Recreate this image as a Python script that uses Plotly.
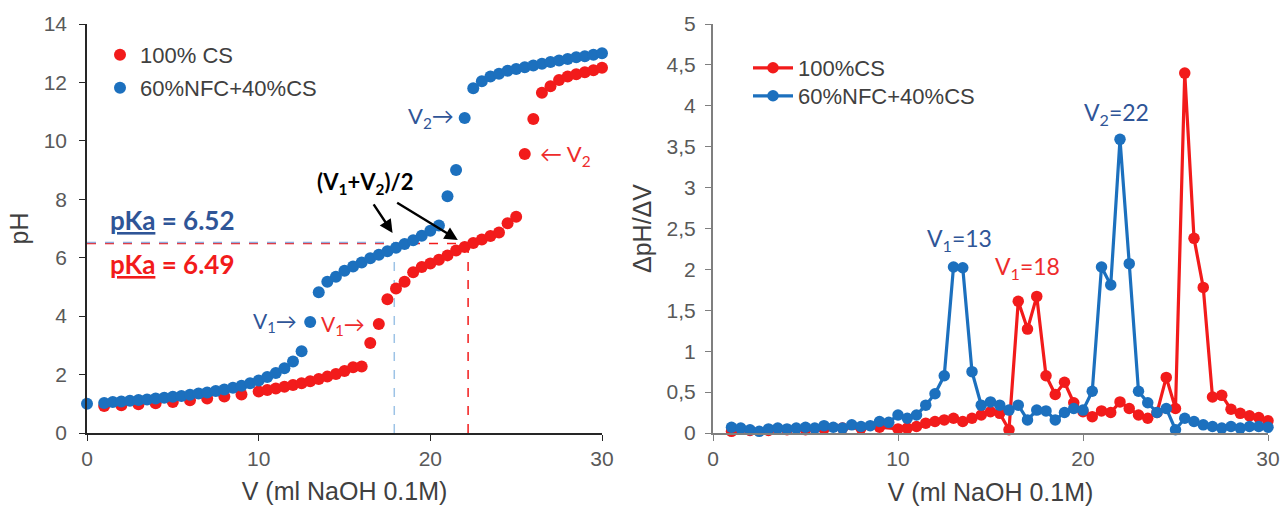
import plotly.graph_objects as go

# ---------------- titration data ----------------
# 100% CS : volume (ml NaOH 0.1M) and pH
v_cs = [1, 2, 3, 4, 5, 6, 7, 8, 9,
        10, 10.5, 11, 11.5, 12, 12.5, 13, 13.5, 14, 14.5, 15, 15.5, 16, 16.5, 17, 17.5,
        18, 18.5, 19, 19.5, 20, 20.5, 21, 21.5, 22, 22.5, 23, 23.5, 24, 24.5, 25, 25.5,
        26, 26.5, 27, 27.5, 28, 28.5, 29, 29.5, 30]
ph_cs = [0.92, 0.95, 0.98, 1.02, 1.06, 1.12, 1.18, 1.25, 1.32,
         1.42, 1.47, 1.52, 1.58, 1.64, 1.70, 1.77, 1.85, 1.93, 2.02, 2.12, 2.25, 2.28, 3.08, 3.73, 4.58,
         4.95, 5.18, 5.50, 5.68, 5.80, 5.93, 6.08, 6.25, 6.37, 6.50, 6.62, 6.74, 6.86, 7.18, 7.40, 9.55,
         10.75, 11.65, 11.87, 12.08, 12.20, 12.28, 12.35, 12.42, 12.50]

# 60%NFC+40%CS : volume and pH
v_nfc = [0, 1, 1.5, 2, 2.5, 3, 3.5, 4, 4.5, 5, 5.5, 6, 6.5, 7, 7.5, 8, 8.5, 9, 9.5, 10,
         10.5, 11, 11.5, 12, 12.5, 13, 13.5, 14, 14.5, 15, 15.5, 16, 16.5, 17, 17.5, 18,
         18.5, 19, 19.5, 20, 20.5, 21, 21.5, 22, 22.5, 23, 23.5, 24, 24.5, 25, 25.5, 26,
         26.5, 27, 27.5, 28, 28.5, 29, 29.5, 30]
ph_nfc = [1.00, 1.03, 1.06, 1.08, 1.10, 1.13, 1.15, 1.18, 1.21, 1.24, 1.27, 1.31, 1.35, 1.39, 1.44,
          1.49, 1.55, 1.62, 1.70, 1.80, 1.92, 2.05, 2.22, 2.45, 2.80, 3.80, 4.82, 5.18, 5.35, 5.55,
          5.70, 5.84, 5.98, 6.10, 6.22, 6.34, 6.47, 6.60, 6.75, 6.92, 7.10, 8.10, 9.00, 10.78, 11.80,
          12.04, 12.20, 12.30, 12.40, 12.46, 12.52, 12.58, 12.64, 12.70, 12.75, 12.80, 12.86, 12.90,
          12.95, 13.00]

# first derivative dpH/dV
dv_cs = [1, 2, 3, 4, 5, 6, 7, 8, 9,
         10, 10.5, 11, 11.5, 12, 12.5, 13, 13.5, 14, 14.5, 15, 15.5, 16, 16.5, 17, 17.5,
         18, 18.5, 19, 19.5, 20, 20.5, 21, 21.5, 22, 22.5, 23, 23.5, 24, 24.5, 25, 25.5,
         26, 26.5, 27, 27.5, 28, 28.5, 29, 29.5, 30]
d_cs = [0.02, 0.03, 0.03, 0.04, 0.04, 0.05, 0.06, 0.06, 0.07,
        0.05, 0.06, 0.08, 0.12, 0.14, 0.16, 0.18, 0.14, 0.18, 0.22, 0.26, 0.24, 0.04, 1.61, 1.27, 1.67,
        0.70, 0.47, 0.62, 0.37, 0.26, 0.20, 0.27, 0.25, 0.38, 0.30, 0.22, 0.18, 0.25, 0.68, 0.30, 4.40,
        2.38, 1.78, 0.44, 0.46, 0.29, 0.24, 0.21, 0.19, 0.15]

dv_nfc = [1, 1.5, 2, 2.5, 3, 3.5, 4, 4.5, 5, 5.5, 6, 6.5, 7, 7.5, 8, 8.5, 9, 9.5, 10,
          10.5, 11, 11.5, 12, 12.5, 13, 13.5, 14, 14.5, 15, 15.5, 16, 16.5, 17, 17.5, 18,
          18.5, 19, 19.5, 20, 20.5, 21, 21.5, 22, 22.5, 23, 23.5, 24, 24.5, 25, 25.5, 26,
          26.5, 27, 27.5, 28, 28.5, 29, 29.5, 30]
d_nfc = [0.07, 0.06, 0.04, 0.02, 0.05, 0.06, 0.05, 0.06, 0.07, 0.06, 0.09, 0.07, 0.06, 0.10, 0.08,
         0.09, 0.14, 0.13, 0.22, 0.18, 0.22, 0.34, 0.48, 0.70, 2.03, 2.02, 0.75, 0.34, 0.38, 0.34,
         0.28, 0.34, 0.16, 0.28, 0.27, 0.16, 0.25, 0.30, 0.28, 0.51, 2.03, 1.81, 3.59, 2.07, 0.51,
         0.37, 0.25, 0.30, 0.04, 0.18, 0.14, 0.10, 0.08, 0.06, 0.08, 0.06, 0.08, 0.08, 0.07]

# half-equivalence points and pKa values
pka_nfc, v_half_nfc = 6.52, 17.9
pka_cs, v_half_cs = 6.49, 22.2

RED = "#F21B1B"
BLUE = "#1C70BE"
LBL_BLUE = "#2F5597"
LBL_RED = "#EE2B2B"
TICK = "#595959"
FONT = "Liberation Sans, Arial, sans-serif"
CAL = "Lato, Carlito, sans-serif"

W, H = 1284, 514
def px(x):
    return x / W
def py(y):
    return (H - y) / H

fig = go.Figure()

# ---- left: titration curves ----
fig.add_trace(go.Scatter(x=v_cs, y=ph_cs, mode="markers", name="100% CS",
                         marker=dict(color=RED, size=12), cliponaxis=False, showlegend=True,
                         xaxis="x", yaxis="y", legend="legend"))
fig.add_trace(go.Scatter(x=v_nfc, y=ph_nfc, mode="markers", name="60%NFC+40%CS",
                         marker=dict(color=BLUE, size=12), cliponaxis=False, showlegend=True,
                         xaxis="x", yaxis="y", legend="legend2"))

# ---- right: derivative curves ----
fig.add_trace(go.Scatter(x=dv_cs, y=d_cs, mode="lines+markers", name="100%CS",
                         line=dict(color=RED, width=3.2), marker=dict(color=RED, size=11.5),
                         cliponaxis=False, showlegend=True,
                         xaxis="x2", yaxis="y2", legend="legend3"))
fig.add_trace(go.Scatter(x=dv_nfc, y=d_nfc, mode="lines+markers", name="60%NFC+40%CS",
                         line=dict(color=BLUE, width=3.2), marker=dict(color=BLUE, size=11.5),
                         cliponaxis=False, showlegend=True,
                         xaxis="x2", yaxis="y2", legend="legend4"))

# pKa guide lines
dash = dict(width=1.5, dash="dash")
fig.add_shape(type="line", xref="x", yref="y", x0=0, x1=v_half_cs, y0=pka_cs, y1=pka_cs,
              line=dict(color=RED, **dash), layer="below")
fig.add_shape(type="line", xref="x", yref="y", x0=0, x1=v_half_nfc, y0=pka_nfc, y1=pka_nfc,
              line=dict(color="#8FAADC", **dash), layer="below")
fig.add_shape(type="line", xref="x", yref="y", x0=v_half_nfc, x1=v_half_nfc, y0=0, y1=pka_nfc,
              line=dict(color="#9DC3E6", **dash), layer="below")
fig.add_shape(type="line", xref="x", yref="y", x0=v_half_cs, x1=v_half_cs, y0=0, y1=pka_cs,
              line=dict(color=RED, **dash), layer="below")

ann = []
def text(x, y, t, color, size=19, bold=False, xa="center", ref=("x", "y"), family=CAL):
    s = f"<b>{t}</b>" if bold else t
    ann.append(dict(x=x, y=y, xref=ref[0], yref=ref[1], text=s, showarrow=False,
                    xanchor=xa, yanchor="middle",
                    font=dict(family=family, size=size, color=color)))

text(1.2, 7.30, f"<u>pKa</u> = {pka_nfc:.2f}", LBL_BLUE, size=26, bold=True, xa="left")
text(1.2, 5.80, f"<u>pKa</u> = {pka_cs:.2f}", RED, size=26, bold=True, xa="left")
text(16.2, 8.56, "(V<sub>1</sub>+V<sub>2</sub>)/2", "#000000", size=22, bold=True)
text(12.35, 3.80, "V<sub>1</sub>\u2192", LBL_BLUE, size=21, xa="right")
text(16.3, 3.70, "V<sub>1</sub>\u2192", LBL_RED, size=21, xa="right")
text(21.5, 10.80, "V<sub>2</sub>\u2192", LBL_BLUE, size=22, xa="right")
text(26.3, 9.52, "\u2190 V<sub>2</sub>", LBL_RED, size=22, xa="left")

# arrows toward the half-equivalence points
for hx, hy, tx, ty in [(17.8, 6.85, 16.64, 7.88), (21.6, 6.61, 17.98, 7.91)]:
    ann.append(dict(x=hx, y=hy, ax=tx, ay=ty, xref="x", yref="y", axref="x", ayref="y",
                    showarrow=True, arrowhead=2, arrowsize=1.1, arrowwidth=2.4,
                    arrowcolor="#000000", text=""))

text(15.2, 2.36, "V<sub>1</sub>=13", LBL_BLUE, size=23, xa="right", ref=("x2", "y2"))
text(17.0, 2.02, "V<sub>1</sub>=18", LBL_RED, size=23, ref=("x2", "y2"))
text(21.8, 3.91, "V<sub>2</sub>=22", LBL_BLUE, size=23, ref=("x2", "y2"))
text(25.6, 5.08, "V<sub>2</sub>=25.5", LBL_RED, size=23, ref=("x2", "y2"))

ydom = [py(433), py(24)]
axis_font = dict(family=FONT, size=21, color=TICK)
title_font = dict(family=FONT, size=25, color="#404040")

common = dict(showgrid=False, zeroline=False, ticks="outside", ticklen=6,
              tickfont=axis_font, automargin=False)

leg_font = dict(family=FONT, size=22, color="#404040")
def leg(x, y, w):
    return dict(x=px(x), y=py(y), xanchor="left", yanchor="middle", visible=True,
                bgcolor="rgba(0,0,0,0)", font=leg_font, itemwidth=w)

fig.update_layout(
    width=W, height=H, margin=dict(l=0, r=0, t=0, b=0),
    paper_bgcolor="white", plot_bgcolor="white",
    separators=", ", showlegend=True,
    annotations=ann,
    xaxis=dict(domain=[px(87), px(602)], range=[0, 30], tickvals=[0, 10, 20, 30],
               showline=True, linecolor="#262626", linewidth=1.5, tickcolor="#262626",
               anchor="y", title=dict(text="V (ml NaOH 0.1M)", font=title_font, standoff=14),
               **common),
    yaxis=dict(domain=ydom, range=[0, 14], tickvals=list(range(0, 15, 2)),
               showline=True, linecolor="#262626", linewidth=1.5, tickcolor="#262626",
               anchor="x", ticklabelstandoff=8,
               title=dict(text="pH", font=title_font, standoff=8), **common),
    xaxis2=dict(domain=[px(713), px(1268)], range=[0, 30], tickvals=[0, 10, 20, 30],
                showline=True, linecolor="#7F7F7F", linewidth=2, tickcolor="#7F7F7F",
                anchor="y2", title=dict(text="V (ml NaOH 0.1M)", font=title_font, standoff=14),
                **common),
    yaxis2=dict(domain=ydom, range=[0, 5], tickvals=[i * 0.5 for i in range(11)],
                showline=True, linecolor="#7F7F7F", linewidth=2, tickcolor="#7F7F7F",
                anchor="x2", ticklabelstandoff=5,
                title=dict(text="\u0394pH/\u0394V", font=title_font, standoff=8), **common),
    legend=leg(100, 55, 30),
    legend2=leg(100, 88, 30),
    legend3=leg(748, 68, 40),
    legend4=leg(748, 96, 40),
)

fig.write_html("out.html")
